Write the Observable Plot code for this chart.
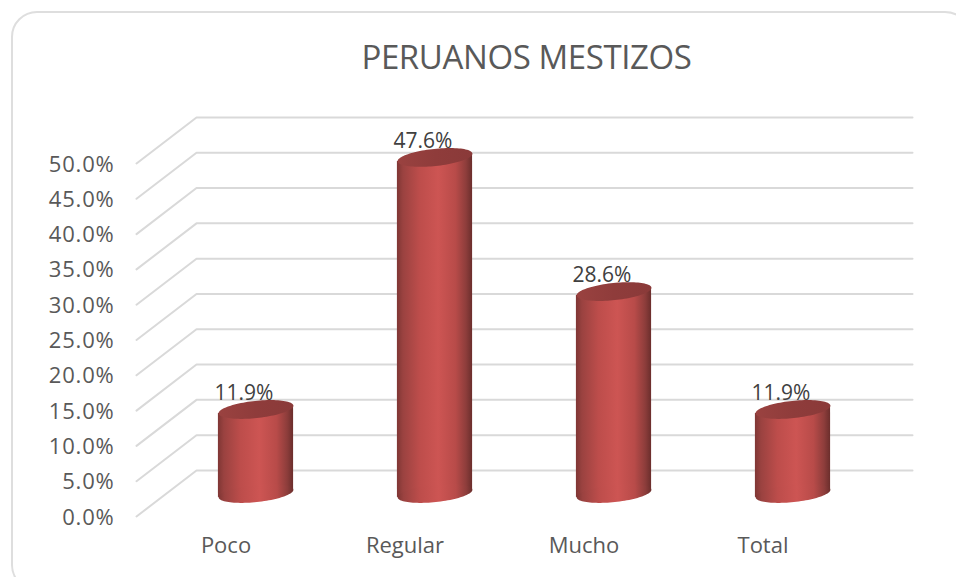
<!DOCTYPE html>
<html lang="es">
<head>
<meta charset="utf-8">
<script src="https://cdn.jsdelivr.net/npm/d3@7"></script>
<script src="https://cdn.jsdelivr.net/npm/@observablehq/plot@0.6"></script>
<style>
html,body{margin:0;padding:0;background:#fff;overflow:hidden}
#page{position:relative;width:956px;height:577px;overflow:hidden;font-family:"Open Sans",sans-serif}
#border{position:absolute;left:11px;top:11px;width:960px;height:580px;border:2px solid #dedede;border-radius:26px;box-sizing:border-box}
#title{position:relative;box-sizing:border-box;width:956px;height:80px;padding:40px 0 0 97px;line-height:34px;text-align:center;font-family:"Open Sans",sans-serif;font-size:33px;color:#595959;letter-spacing:-.4px;white-space:nowrap}
#chart{position:relative}
#chart svg{display:block;overflow:visible}
#chart svg g[aria-label="y-axis tick label"]{letter-spacing:.8px}
</style>
</head>
<body>
<div id="page">
  <div id="border"></div>
  <div id="title">PERUANOS MESTIZOS</div>
  <div id="chart"></div>
</div>
<script>
const categories = ["Poco", "Regular", "Mucho", "Total"];
const values = [11.9, 47.6, 28.6, 11.9];
const yTicks = [0, 5, 10, 15, 20, 25, 30, 35, 40, 45, 50];

// Pseudo-3D depth of the chart box, in data units
const depthX = 0.1676, depthY = 3.26;
const halfWidth = 0.21, tiltY = 0.57;

const pct = d => d.toFixed(1) + "%";
const bars = categories.map((c, i) => ({c, v: values[i], x: i + 0.5, top: values[i] + depthY, base: depthY}));

const grid = yTicks.flatMap(t => [
  {t, x: -depthX, y: t},
  {t, x: depthX, y: t + 2 * depthY},
  {t, x: categories.length + depthX, y: t + 2 * depthY}
]);

const body = bars.flatMap(b => [
  {c: b.c, x: b.x - halfWidth, y1: b.base - tiltY, y2: b.top - tiltY},
  {c: b.c, x: b.x + halfWidth, y1: b.base + tiltY, y2: b.top + tiltY}
]);

// a tilted ellipse drawn as a dot symbol
const ellipse = {
  draw(ctx) {
    const rx = 37.6, ry = 8.6, a = -6 * Math.PI / 180;
    for (let k = 0; k <= 96; ++k) {
      const t = k / 96 * 2 * Math.PI;
      const ex = rx * Math.cos(t), ey = ry * Math.sin(t);
      const px = ex * Math.cos(a) - ey * Math.sin(a);
      const py = ex * Math.sin(a) + ey * Math.cos(a);
      k ? ctx.lineTo(px, py) : ctx.moveTo(px, py);
    }
    ctx.closePath();
  }
};

function gradients() {
  const defs = d3.create("svg:defs");
  const g = defs.append("linearGradient").attr("id", "cyl");
  [[0, "#7f3634"], [0.08, "#9a4240"], [0.3, "#bd4d4b"], [0.55, "#cd5553"], [0.78, "#b84b49"], [0.92, "#8d3d3b"], [1, "#6b2e2c"]]
    .forEach(([o, c]) => g.append("stop").attr("offset", o).attr("stop-color", c));
  const t = defs.append("linearGradient").attr("id", "cap");
  [[0, "#9a4240"], [0.5, "#8f3c3b"], [1, "#8a3a39"]]
    .forEach(([o, c]) => t.append("stop").attr("offset", o).attr("stop-color", c));
  return defs.node();
}

const chart = Plot.plot({
  width: 956,
  height: 497,
  marginTop: 83,
  marginBottom: 61,
  marginLeft: 166,
  marginRight: 74,
  style: {fontFamily: '"Open Sans",sans-serif', background: "transparent", color: "#595959"},
  x: {type: "linear", domain: [0, categories.length]},
  y: {domain: [0, 50]},
  marks: [
    gradients,
    Plot.line(grid, {x: "x", y: "y", z: "t", stroke: "#d9d9d9", strokeWidth: 2, curve: "linear"}),
    Plot.axisY({ticks: yTicks, tickSize: 0, tickPadding: 52, dy: 1, tickFormat: pct, fontSize: 22, fill: "#595959", label: null}),
    Plot.axisX({ticks: bars.map(b => b.x), tickSize: 0, tickPadding: 21, dx: -30,
      tickFormat: d => categories[Math.floor(d)], fontSize: 22, fill: "#595959", label: null}),
    Plot.areaY(body, {x: "x", y1: "y1", y2: "y2", z: "c", fill: "url(#cyl)"}),
    Plot.dot(bars, {x: "x", y: "base", r: 1, symbol: ellipse, fill: "url(#cyl)", stroke: "none"}),
    Plot.dot(bars, {x: "x", y: "top", r: 1, symbol: ellipse, fill: "url(#cap)", stroke: "none"}),
    Plot.text(bars, {x: "x", y: "top", text: d => pct(d.v), dx: -12, dy: -16, fontSize: 21, fill: "#404040"})
  ]
});
document.getElementById("chart").append(chart);
</script>
</body>
</html>
